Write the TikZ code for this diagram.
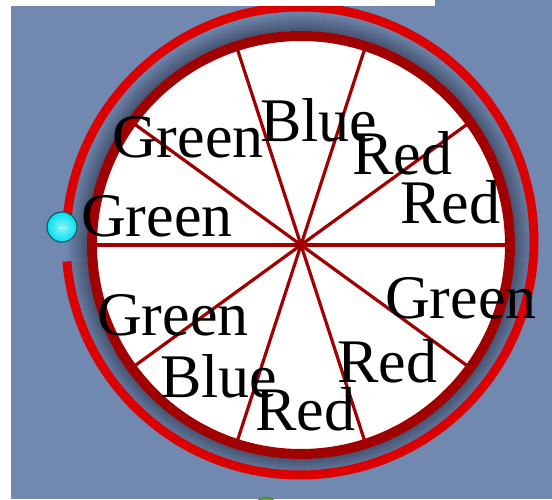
\documentclass[tikz,border=0pt]{standalone}
\usepackage{fontspec}
\setmainfont{Liberation Serif}
\usetikzlibrary{positioning,calc}
\definecolor{bgBlue}{RGB}{113,137,177}
\definecolor{bandDark}{RGB}{72,86,116}
\definecolor{rimRed}{RGB}{160,0,0}
\definecolor{ringRed}{RGB}{220,0,0}
\definecolor{knobCyan}{RGB}{0,225,240}
\definecolor{knobEdge}{RGB}{20,90,100}
\definecolor{knobGreen}{RGB}{110,200,40}
\tikzset{
  outer ring/.style={draw=ringRed,line width=9pt},
  wheel rim/.style={draw=rimRed,fill=white,line width=10pt},
  spoke line/.style={draw=rimRed,line width=3.2pt},
  slot label/.style={anchor=base west,inner sep=0pt,
    font=\fontsize{62}{62}\selectfont,text=black}
}

\begin{document}
\begin{tikzpicture}[x=1pt,y=1pt]
    \useasboundingbox (0,0) rectangle (552,499);
    \fill[bgBlue] (11,0) rectangle (552,499);
    \coordinate (hub) at (301,254);
    \coordinate (ringc) at (300,258);
    % shadow band inside the outer ring
    \foreach \i in {0,...,9}{
      \pgfmathsetmacro{\mix}{100-10*\i}
      \draw[line width=2.3pt,bandDark!\mix!bgBlue] (hub) circle[radius=215+2*\i];
    }
    \draw[outer ring] (ringc) ++(185:234) arc[start angle=185,end angle=535,radius=234];
    \draw[wheel rim] (hub) circle[radius=209];
    \foreach \a in {0,36,...,324}
      \draw[spoke line] (hub) -- ++(\a:205);
    \fill[rimRed] (hub) circle[radius=4];
    % labels
    \node[slot label] (green1) at (112,341) {Green};
    \node[slot label] (blue1) at (260,357) {Blue};
    \node[slot label] (red1) at (352,324) {Red};
    \node[slot label] (red2) at (400,276) {Red};
    \node[slot label] (green2) at (81,262) {Green};
    \node[slot label] (green3) at (385,181) {Green};
    \node[slot label] (green4) at (97,164) {Green};
    \node[slot label] (blue2) at (160,102) {Blue};
    \node[slot label] (red3) at (337,117) {Red};
    \node[slot label] (red4) at (255,69) {Red};
    % knobs
    \shade[inner color=white!55!knobCyan,outer color=knobCyan,draw=knobEdge,line width=1.2pt]
      (62,272) circle[radius=15];
    \draw[white!60!knobCyan,line width=1.2pt] (58,271) -- (67,271);
    \shade[inner color=white!40!knobGreen,outer color=knobGreen!80!black,draw=knobGreen!50!black]
      (266,-11) circle[radius=13];
    \fill[white] (0,493) rectangle (435,499);
    \fill[white] (0,0) rectangle (11,499);
  \end{tikzpicture}
\end{document}
